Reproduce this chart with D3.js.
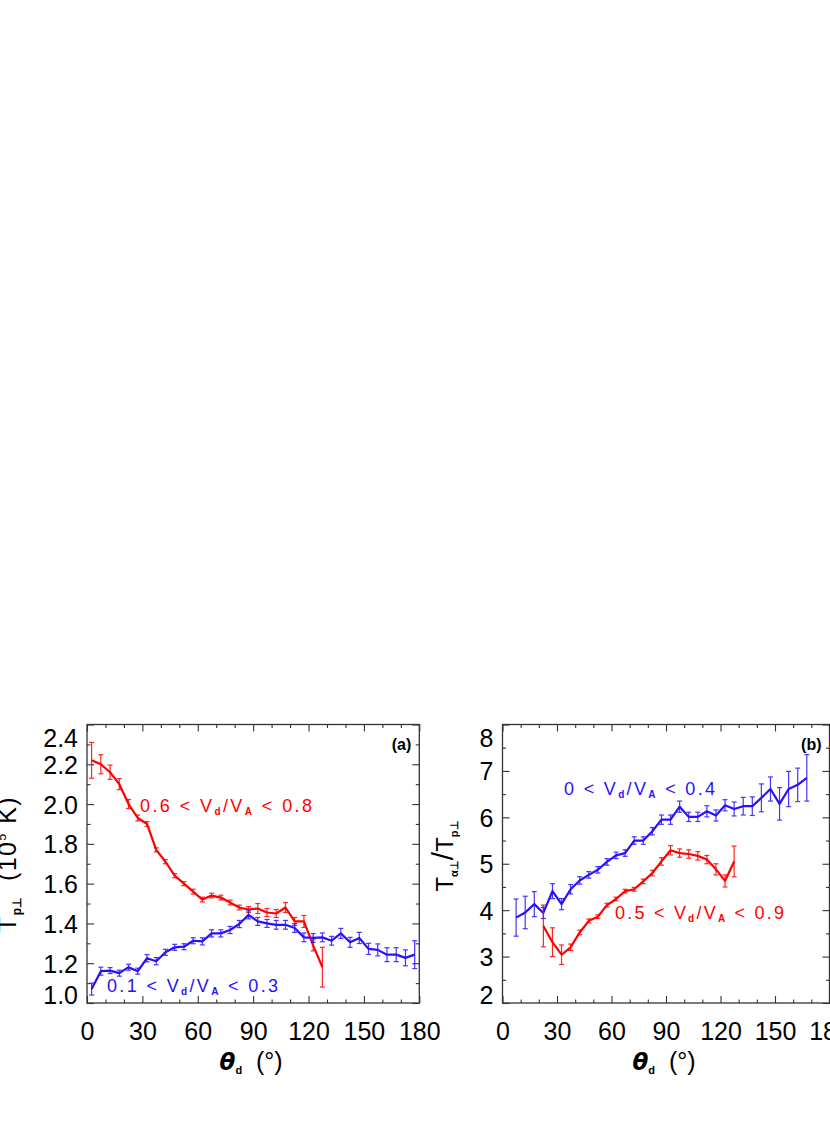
<!DOCTYPE html>
<html>
<head>
<meta charset="utf-8">
<script src="https://cdn.jsdelivr.net/npm/d3@7"></script>
<style>
  body { margin: 0; background: #fff; }
  text { font-family: "Liberation Sans", Arial, sans-serif; }
</style>
</head>
<body>
<div id="chart"></div>
<script>
// ---- data ----
// panel (a): T_p-perp (10^5 K) vs theta_d
const tpRedTheta = [2.5, 7.5, 12.5, 17.5, 22.5, 27.5, 32.5, 37.5, 42.5, 47.5, 52.5, 57.5, 62.5,
    67.5, 72.5, 77.5, 82.5, 87.5, 92.5, 97.5, 102.5, 107.5, 112.5, 117.5, 122.5, 127.5];
const tpRed = [2.22, 2.20, 2.16, 2.10, 2.00, 1.93, 1.90, 1.77, 1.71, 1.64, 1.60, 1.56, 1.52,
    1.54, 1.53, 1.505, 1.48, 1.47, 1.475, 1.455, 1.45, 1.48, 1.41, 1.41, 1.29, 1.18];
const tpRedErr = [0.09, 0.048, 0.036, 0.028, 0.023, 0.015, 0.012, 0.01, 0.01, 0.01, 0.01, 0.012, 0.012,
    0.012, 0.012, 0.012, 0.012, 0.015, 0.025, 0.02, 0.02, 0.025, 0.02, 0.03, 0.028, 0.1];

const tpBlueTheta = [2.5, 7.5, 12.5, 17.5, 22.5, 27.5, 32.5, 37.5, 42.5, 47.5, 52.5, 57.5, 62.5,
    67.5, 72.5, 77.5, 82.5, 87.5, 92.5, 97.5, 102.5, 107.5, 112.5, 117.5, 122.5, 127.5,
    132.5, 137.5, 142.5, 147.5, 152.5, 157.5, 162.5, 167.5, 172.5, 177.5];
const tpBlue = [1.07, 1.16, 1.163, 1.15, 1.18, 1.16, 1.225, 1.21, 1.255, 1.28, 1.283, 1.313, 1.31,
    1.35, 1.35, 1.367, 1.397, 1.443, 1.41, 1.40, 1.393, 1.393, 1.377, 1.33, 1.327, 1.33,
    1.313, 1.35, 1.305, 1.327, 1.272, 1.267, 1.243, 1.243, 1.227, 1.243];
const tpBlueErr = [0.03, 0.02, 0.015, 0.015, 0.015, 0.015, 0.018, 0.018, 0.015, 0.015, 0.015, 0.015, 0.018,
    0.018, 0.018, 0.018, 0.018, 0.02, 0.02, 0.02, 0.022, 0.022, 0.022, 0.022, 0.022, 0.022,
    0.022, 0.025, 0.025, 0.028, 0.028, 0.03, 0.035, 0.035, 0.04, 0.07];

// panel (b): T_alpha-perp / T_p-perp vs theta_d
const ratioBlueTheta = [7.5, 12.5, 17.5, 22.5, 27.5, 32.5, 37.5, 42.5, 47.5, 52.5, 57.5, 62.5,
    67.5, 72.5, 77.5, 82.5, 87.5, 92.5, 97.5, 102.5, 107.5, 112.5, 117.5, 122.5, 127.5,
    132.5, 137.5, 142.5, 147.5, 152.5, 157.5, 162.5, 167.5];
const ratioBlue = [3.84, 3.95, 4.13, 3.94, 4.41, 4.13, 4.45, 4.64, 4.76, 4.87, 5.04, 5.18,
    5.23, 5.5, 5.5, 5.7, 5.95, 5.95, 6.23, 6.01, 6.01, 6.13, 6.04, 6.26, 6.18,
    6.24, 6.24, 6.42, 6.61, 6.29, 6.61, 6.70, 6.85];
const ratioBlueErr = [0.4, 0.35, 0.27, 0.12, 0.16, 0.12, 0.1, 0.08, 0.07, 0.07, 0.07, 0.07,
    0.07, 0.08, 0.08, 0.08, 0.1, 0.1, 0.12, 0.1, 0.1, 0.12, 0.12, 0.12, 0.15,
    0.19, 0.2, 0.3, 0.26, 0.35, 0.38, 0.36, 0.5];

const ratioRedTheta = [22.5, 27.5, 32.5, 37.5, 42.5, 47.5, 52.5, 57.5, 62.5, 67.5, 72.5,
    77.5, 82.5, 87.5, 92.5, 97.5, 102.5, 107.5, 112.5, 117.5, 122.5, 127.5];
const ratioRed = [3.66, 3.31, 3.04, 3.2, 3.52, 3.77, 3.86, 4.11, 4.24, 4.41, 4.45,
    4.62, 4.8, 5.05, 5.29, 5.23, 5.21, 5.17, 5.09, 4.88, 4.63, 5.05];
const ratioRedErr = [0.45, 0.31, 0.21, 0.07, 0.05, 0.04, 0.04, 0.04, 0.04, 0.04, 0.04,
    0.05, 0.06, 0.08, 0.1, 0.09, 0.09, 0.09, 0.09, 0.12, 0.13, 0.33];

// ticks
const thetaMajor = [0, 30, 60, 90, 120, 150, 180];
const thetaMinor = [10, 20, 40, 50, 70, 80, 100, 110, 130, 140, 160, 170];
const tpMajor = [1.0, 1.2, 1.4, 1.6, 1.8, 2.0, 2.2, 2.4];
const tpMinor = [1.1, 1.3, 1.5, 1.7, 1.9, 2.1, 2.3];
const ratioMajor = [2, 3, 4, 5, 6, 7, 8];
const ratioMinor = [2.5, 3.5, 4.5, 5.5, 6.5, 7.5];

const RED = "#ff0000";
const BLUE = "#2810ff";

const svg = d3.select("#chart").append("svg")
    .attr("width", 830)
    .attr("height", 1127);

const plotTop = 724.5, plotBottom = 1003;

function drawPanel(p) {
    const x = d3.scaleLinear().domain([0, 180]).range([p.left, p.right]);
    const y = d3.scaleLinear().domain(p.yDomain).range([plotBottom, plotTop]);
    const g = svg.append("g");

    // major ticks, all four sides, pointing in
    g.append("g").attr("transform", `translate(0,${plotBottom})`)
        .call(d3.axisBottom(x).tickValues(thetaMajor).tickSizeInner(-7).tickSizeOuter(0)
            .tickPadding(19).tickFormat(d3.format("d")));
    g.append("g").attr("transform", `translate(0,${plotTop})`)
        .call(d3.axisTop(x).tickValues(thetaMajor).tickSizeInner(-7).tickSizeOuter(0).tickFormat(""));
    const yl = g.append("g").attr("transform", `translate(${p.left},0)`)
        .call(d3.axisLeft(y).tickValues(p.yMajor).tickSizeInner(-7).tickSizeOuter(0)
            .tickPadding(9).tickFormat(p.yFormat));
    g.append("g").attr("transform", `translate(${p.right},0)`)
        .call(d3.axisRight(y).tickValues(p.yMajor).tickSizeInner(-7).tickSizeOuter(0).tickFormat(""));

    // minor ticks
    g.append("g").attr("transform", `translate(0,${plotBottom})`)
        .call(d3.axisBottom(x).tickValues(thetaMinor).tickSize(-3.5).tickFormat(""));
    g.append("g").attr("transform", `translate(0,${plotTop})`)
        .call(d3.axisTop(x).tickValues(thetaMinor).tickSize(-3.5).tickFormat(""));
    g.append("g").attr("transform", `translate(${p.left},0)`)
        .call(d3.axisLeft(y).tickValues(p.yMinor).tickSize(-3.5).tickFormat(""));
    g.append("g").attr("transform", `translate(${p.right},0)`)
        .call(d3.axisRight(y).tickValues(p.yMinor).tickSize(-3.5).tickFormat(""));

    g.selectAll(".domain").remove();
    g.selectAll(".tick line").attr("stroke", "#333").attr("stroke-width", 1.1);
    g.selectAll(".tick text")
        .attr("fill", "#000")
        .style("font-family", "'Liberation Sans', Arial, sans-serif")
        .style("font-size", "25px");

    // keep end labels of the y axis inside the frame
    const [y0, y1] = p.yDomain;
    yl.selectAll(".tick text")
        .attr("dy", d => d === y1 ? "0.86em" : d === y0 ? "0em" : "0.36em");

    // frame
    g.append("rect")
        .attr("x", p.left).attr("y", plotTop)
        .attr("width", p.right - p.left).attr("height", plotBottom - plotTop)
        .attr("fill", "none").attr("stroke", "#333").attr("stroke-width", 1.3);

    // series: error bars then line
    p.series.forEach(s => {
        const pts = s.theta.map((t, i) => ({ t, v: s.val[i], e: s.err[i] }));
        const eb = g.append("g").attr("stroke", s.color).attr("stroke-width", 1.2).attr("opacity", 0.85);
        pts.forEach(d => {
            const cx = x(d.t), ya = y(d.v + d.e), yb = y(d.v - d.e);
            eb.append("line").attr("x1", cx).attr("x2", cx).attr("y1", ya).attr("y2", yb);
            eb.append("line").attr("x1", cx - 2.5).attr("x2", cx + 2.5).attr("y1", ya).attr("y2", ya);
            eb.append("line").attr("x1", cx - 2.5).attr("x2", cx + 2.5).attr("y1", yb).attr("y2", yb);
        });
        g.append("path")
            .datum(pts)
            .attr("fill", "none")
            .attr("stroke", s.color)
            .attr("stroke-width", 2.2)
            .attr("stroke-linejoin", "round")
            .attr("d", d3.line().x(d => x(d.t)).y(d => y(d.v)));
    });

    // range labels  "a < Vd/VA < b"
    p.labels.forEach(l => {
        const t = g.append("text")
            .attr("x", l.x).attr("y", l.y)
            .attr("fill", l.color)
            .attr("textLength", l.w)
            .attr("lengthAdjust", "spacing")
            .style("font-size", "18px")
            .style("white-space", "pre");
        t.append("tspan").text(`${l.lo} < V`);
        t.append("tspan").attr("dy", 3).style("font-size", "10px").style("font-weight", "bold").text("d");
        t.append("tspan").attr("dy", -3).text("/V");
        t.append("tspan").attr("dy", 3).style("font-size", "10px").style("font-weight", "bold").text("A");
        t.append("tspan").attr("dy", -3).text(` < ${l.hi}`);
    });

    // panel tag
    g.append("text")
        .attr("x", p.right - 8).attr("y", 750)
        .attr("text-anchor", "end")
        .style("font-size", "16px")
        .style("font-weight", "bold")
        .text(p.tag);

    // x title
    const cx = (p.left + p.right) / 2 - 2;
    const xt = g.append("text")
        .attr("x", cx).attr("y", 1070)
        .attr("text-anchor", "middle")
        .style("font-size", "25px")
        .style("white-space", "pre");
    xt.append("tspan").style("font-family", "'DejaVu Sans', sans-serif")
        .style("font-weight", "bold").style("font-style", "italic").style("font-size", "23px").text("θ");
    xt.append("tspan").attr("dy", 4).style("font-size", "11px").style("font-weight", "bold").text("d");
    xt.append("tspan").attr("dy", -4).text("  (°)");

    return g;
}

drawPanel({
    left: 87, right: 419.3,
    yDomain: [1.0, 2.4], yMajor: tpMajor, yMinor: tpMinor, yFormat: d3.format(".1f"),
    series: [
        { theta: tpRedTheta, val: tpRed, err: tpRedErr, color: RED },
        { theta: tpBlueTheta, val: tpBlue, err: tpBlueErr, color: BLUE }
    ],
    labels: [
        { lo: "0.6", hi: "0.8", x: 140, y: 812, w: 172, color: RED },
        { lo: "0.1", hi: "0.3", x: 107, y: 992, w: 171, color: BLUE }
    ],
    tag: "(a)"
});

drawPanel({
    left: 502.5, right: 829.5,
    yDomain: [2, 8], yMajor: ratioMajor, yMinor: ratioMinor, yFormat: d3.format("d"),
    series: [
        { theta: ratioBlueTheta, val: ratioBlue, err: ratioBlueErr, color: BLUE },
        { theta: ratioRedTheta, val: ratioRed, err: ratioRedErr, color: RED }
    ],
    labels: [
        { lo: "0", hi: "0.4", x: 564, y: 795, w: 151, color: BLUE },
        { lo: "0.5", hi: "0.9", x: 615, y: 919, w: 169, color: RED }
    ],
    tag: "(b)"
});

// y titles
const yt1 = svg.append("text")
    .attr("transform", "translate(16,864) rotate(-90)")
    .attr("text-anchor", "middle")
    .style("font-size", "25px")
    .style("letter-spacing", "1.5px")
    .style("white-space", "pre");
yt1.append("tspan").text("T");
yt1.append("tspan").attr("dy", 5).style("font-size", "12px").style("font-weight", "bold")
    .style("letter-spacing", "0px").text("p⊥");
yt1.append("tspan").attr("dy", -5).text("  (10");
yt1.append("tspan").attr("dy", -10).style("font-size", "12px").text("5");
yt1.append("tspan").attr("dy", 10).text(" K)");

const yt2 = svg.append("text")
    .attr("transform", "translate(453,856) rotate(-90)")
    .attr("text-anchor", "middle")
    .style("font-size", "24px");
yt2.append("tspan").text("T");
yt2.append("tspan").attr("dy", 5).style("font-size", "11px").style("font-weight", "bold").text("α⊥");
yt2.append("tspan").attr("dy", -5).style("font-size", "30px").text("/");
yt2.append("tspan").text("T");
yt2.append("tspan").attr("dy", 5).style("font-size", "11px").style("font-weight", "bold").text("p⊥");
</script>
</body>
</html>
